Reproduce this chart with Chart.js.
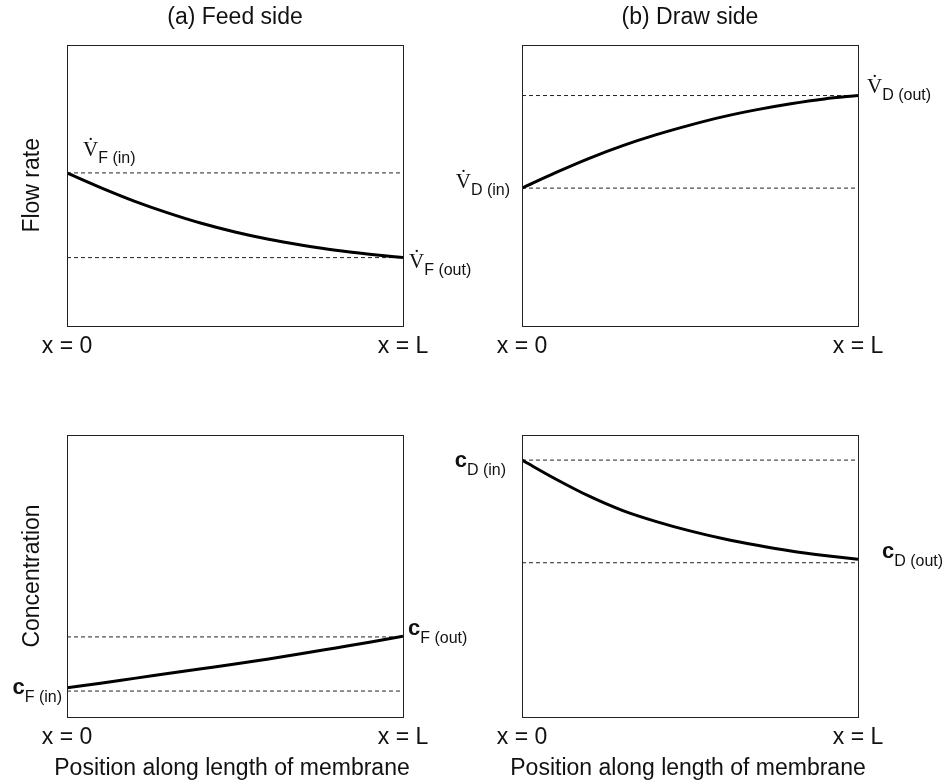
<!DOCTYPE html>
<html>
<head>
<meta charset="utf-8">
<script src="https://cdn.jsdelivr.net/npm/chart.js@4.4.0/dist/chart.umd.min.js"></script>
<style>
  body { margin: 0; background: #fff; overflow: hidden; }
  #wrap { position: relative; width: 947px; height: 784px; overflow: hidden; }
  .panel { position: absolute; }
</style>
</head>
<body>
<div id="wrap">
  <div class="panel" style="left:0;top:0;width:480px;height:380px"><canvas id="feedFlow"></canvas></div>
  <div class="panel" style="left:440px;top:0;width:507px;height:380px"><canvas id="drawFlow"></canvas></div>
  <div class="panel" style="left:-10px;top:380px;width:484px;height:404px"><canvas id="feedConc"></canvas></div>
  <div class="panel" style="left:429px;top:380px;width:518px;height:404px"><canvas id="drawConc"></canvas></div>
</div>
<script>
// position along the membrane, 0 .. L split in ten steps
const positions = [0, 1, 2, 3, 4, 5, 6, 7, 8, 9, 10];
const xTickLabels = ['x = 0', 'x = L'];

// flow rates (arbitrary units, 0-100)
const feedFlowRate = [54.4, 49.2, 44.4, 40.2, 36.5, 33.4, 30.8, 28.7, 26.9, 25.5, 24.3];
const feedFlowLimits = [54.4, 24.3];
const drawFlowRate = [49.0, 54.5, 59.6, 64.1, 68.0, 71.4, 74.4, 76.9, 79.0, 80.7, 81.9];
const drawFlowLimits = [49.0, 81.9];

// concentrations (arbitrary units, 0-100)
const feedConc = [10.4, 12.0, 13.7, 15.4, 17.1, 18.8, 20.6, 22.5, 24.5, 26.5, 28.6];
const feedConcLimits = [9.2, 28.4];
const drawConc = [91.1, 84.4, 78.3, 73.2, 69.3, 66.0, 63.2, 60.9, 58.9, 57.3, 55.9];
const drawConcLimits = [91.1, 54.7];

const SANS = '"Liberation Sans", Arial, sans-serif';
const SERIF = '"Liberation Serif", "Times New Roman", serif';
Chart.defaults.font.family = SANS;
Chart.defaults.color = '#111';

const toPoints = vals => positions.map((p, i) => ({ x: p, y: vals[i] }));
const flat = v => [{ x: positions[0], y: v }, { x: positions[positions.length - 1], y: v }];

// box around the plot area plus the in/out symbols next to the curve ends
const frameAndLabels = {
  id: 'frameAndLabels',
  afterDatasetsDraw(chart, args, opts) {
    const { ctx, chartArea: a, scales: { x, y } } = chart;
    ctx.save();
    ctx.strokeStyle = '#222';
    ctx.lineWidth = 1;
    ctx.strokeRect(Math.round(a.left) + 0.5, Math.round(a.top) + 0.5, Math.round(a.width), Math.round(a.height));

    const curve = chart.data.datasets[0].data;
    (opts.labels || []).forEach(l => {
      const pt = l.at === 'start' ? curve[0] : curve[curve.length - 1];
      const mainFont = l.kind === 'flow' ? 'normal 21px ' + SERIF : 'bold 22px ' + SANS;
      const mainText = l.kind === 'flow' ? 'V\u0307' : 'c';
      const subFont = '16px ' + SANS;
      ctx.font = mainFont;
      const wMain = ctx.measureText(mainText).width;
      ctx.font = subFont;
      const wSub = ctx.measureText(l.sub).width;
      let px = x.getPixelForValue(pt.x) + l.dx;
      const py = y.getPixelForValue(pt.y) + l.dy;
      if (l.align === 'right') px -= wMain + wSub;
      ctx.fillStyle = '#111';
      ctx.textBaseline = 'alphabetic';
      ctx.textAlign = 'left';
      ctx.font = mainFont;
      ctx.fillText(mainText, px, py);
      ctx.font = subFont;
      ctx.fillText(l.sub, px + wMain, py + (l.kind === 'flow' ? 7 : 8));
    });
    ctx.restore();
  }
};

function buildPanel(id, cfg) {
  return new Chart(document.getElementById(id), {
    type: 'line',
    data: {
      datasets: [
        { data: toPoints(cfg.values), borderColor: '#000', borderWidth: 3, pointRadius: 0, cubicInterpolationMode: 'monotone' },
        { data: flat(cfg.limits[0]), borderColor: '#222', borderWidth: 1, borderDash: [4, 3], pointRadius: 0 },
        { data: flat(cfg.limits[1]), borderColor: '#222', borderWidth: 1, borderDash: [4, 3], pointRadius: 0 }
      ]
    },
    options: {
      responsive: true,
      maintainAspectRatio: false,
      animation: false,
      layout: { padding: { left: 0, right: 0, top: cfg.top, bottom: 0 } },
      plugins: {
        legend: { display: false },
        tooltip: { enabled: false },
        title: {
          display: !!cfg.title,
          text: cfg.title,
          fullSize: false,
          color: '#111',
          font: { size: 23, weight: 'normal' },
          padding: { top: 4, bottom: 13 }
        },
        // axis caption under the bottom row, full canvas width so it keeps its natural size
        subtitle: {
          display: !!cfg.xTitle,
          text: cfg.xTitle,
          position: 'bottom',
          fullSize: true,
          color: '#111',
          font: { size: 23, weight: 'normal' },
          padding: { top: 1, bottom: 2 }
        },
        frameAndLabels: { labels: cfg.labels }
      },
      scales: {
        x: {
          type: 'linear',
          min: 0,
          max: 10,
          grid: { display: false, drawTicks: false },
          border: { display: false },
          afterBuildTicks: s => { s.ticks = [{ value: 0 }, { value: 10 }]; },
          afterFit: s => { s.height = cfg.xHeight; },
          ticks: {
            padding: 7,
            maxRotation: 0,
            autoSkip: false,
            color: '#111',
            font: { size: 23 },
            callback: v => (v === 0 ? xTickLabels[0] : xTickLabels[1])
          }
        },
        y: {
          min: 0,
          max: 100,
          grid: { display: false, drawTicks: false },
          border: { display: false },
          ticks: { display: false },
          afterFit: s => { s.width = cfg.left; },
          title: {
            display: !!cfg.yTitle,
            text: cfg.yTitle,
            color: '#111',
            font: { size: 23 },
            padding: { top: cfg.yTitlePad || 0, bottom: 0 }
          }
        },
        // empty right-hand axis, only reserves the margin beside the box
        yRight: {
          position: 'right',
          grid: { display: false, drawTicks: false },
          border: { display: false },
          ticks: { display: false },
          afterFit: s => { s.width = cfg.right; }
        }
      }
    },
    plugins: [frameAndLabels]
  });
}

buildPanel('feedFlow', {
  values: feedFlowRate, limits: feedFlowLimits,
  title: '(a) Feed side', yTitle: 'Flow rate', yTitlePad: 19,
  left: 67, right: 77, top: 0, xHeight: 54,
  labels: [
    { kind: 'flow', sub: 'F (in)', at: 'start', align: 'left', dx: 16, dy: -17 },
    { kind: 'flow', sub: 'F (out)', at: 'end', align: 'left', dx: 6, dy: 10 }
  ]
});

buildPanel('drawFlow', {
  values: drawFlowRate, limits: drawFlowLimits,
  title: '(b) Draw side',
  left: 82, right: 89, top: 0, xHeight: 54,
  labels: [
    { kind: 'flow', sub: 'D (in)', at: 'start', align: 'right', dx: -12, dy: 0 },
    { kind: 'flow', sub: 'D (out)', at: 'end', align: 'left', dx: 9, dy: -3 }
  ]
});

buildPanel('feedConc', {
  values: feedConc, limits: feedConcLimits,
  yTitle: 'Concentration', yTitlePad: 29, xTitle: 'Position along length of membrane',
  left: 77, right: 71, top: 55, xHeight: 36.4,
  labels: [
    { kind: 'conc', sub: 'F (in)', at: 'start', align: 'right', dx: -5, dy: 6 },
    { kind: 'conc', sub: 'F (out)', at: 'end', align: 'left', dx: 5, dy: -1 }
  ]
});

buildPanel('drawConc', {
  values: drawConc, limits: drawConcLimits,
  xTitle: 'Position along length of membrane',
  left: 93, right: 89, top: 55, xHeight: 36.4,
  labels: [
    { kind: 'conc', sub: 'D (in)', at: 'start', align: 'right', dx: -16, dy: 7 },
    { kind: 'conc', sub: 'D (out)', at: 'end', align: 'left', dx: 24, dy: -1 }
  ]
});
</script>
</body>
</html>
